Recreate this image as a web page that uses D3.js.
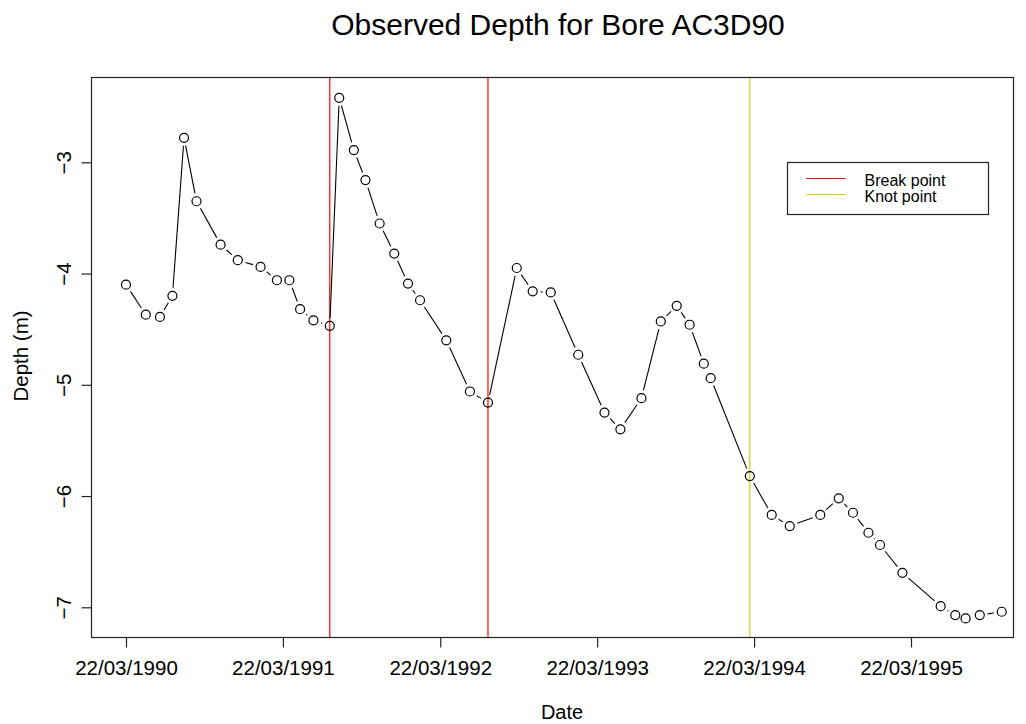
<!DOCTYPE html>
<html>
<head>
<meta charset="utf-8">
<script src="https://cdn.jsdelivr.net/npm/d3@7"></script>
<style>
  body { margin:0; background:#fff; }
  text { font-family:"Liberation Sans", Arial, sans-serif; fill:#000; }
</style>
</head>
<body>
<div id="chart"></div>
<script>
const obsDates = [
  "22/03/1990","07/05/1990","09/06/1990","08/07/1990","04/08/1990","02/09/1990",
  "28/10/1990","07/12/1990","29/01/1991","08/03/1991","06/04/1991","01/05/1991",
  "01/06/1991","09/07/1991","31/07/1991","03/09/1991","30/09/1991","02/11/1991",
  "06/12/1991","07/01/1992","04/02/1992","05/04/1992","30/05/1992","11/07/1992",
  "16/09/1992","23/10/1992","04/12/1992","06/02/1993","08/04/1993","15/05/1993",
  "03/07/1993","17/08/1993","23/09/1993","23/10/1993","25/11/1993","11/12/1993",
  "12/03/1994","02/05/1994","13/06/1994","23/08/1994","05/10/1994","07/11/1994",
  "13/12/1994","09/01/1995","02/03/1995","30/05/1995","03/07/1995","27/07/1995",
  "29/08/1995","19/10/1995"
];
const obsDepth = [
  -4.10,-4.37,-4.39,-4.20,-2.78,-3.35,
  -3.74,-3.88,-3.94,-4.06,-4.06,-4.32,
  -4.42,-4.47,-2.42,-2.89,-3.16,-3.55,
  -3.82,-4.09,-4.24,-4.60,-5.06,-5.16,
  -3.95,-4.16,-4.17,-4.73,-5.25,-5.40,
  -5.12,-4.43,-4.29,-4.46,-4.81,-4.94,
  -5.82,-6.17,-6.27,-6.17,-6.02,-6.15,
  -6.33,-6.44,-6.69,-6.99,-7.07,-7.10,
  -7.07,-7.04
];
const breakDates = ["09/07/1991","11/07/1992"];
const knotDates = ["12/03/1994"];
const xTickDates = ["22/03/1990","22/03/1991","22/03/1992","22/03/1993","22/03/1994","22/03/1995"];
const yTicks = [-3,-4,-5,-6,-7];
const legendLabels = ["Break point","Knot point"];

const W = 1026, H = 724;
const box = {left:91, right:1013, top:77, bottom:637};
const parse = d3.timeParse("%d/%m/%Y");
const fmt = d3.timeFormat("%d/%m/%Y");

const data = obsDates.map((d,i)=>({date:parse(d), depth:obsDepth[i]}));

const x = d3.scaleTime()
  .domain([parse(xTickDates[0]), parse(xTickDates[5])])
  .range([126, 911]);
const y = d3.scaleLinear()
  .domain([-3,-7])
  .range([162.3, 607.3]);

const svg = d3.select("#chart").append("svg")
  .attr("width",W).attr("height",H);
svg.append("rect").attr("width",W).attr("height",H).attr("fill","#fff");

// break / knot lines
svg.append("g").selectAll("line").data(breakDates.map(parse)).join("line")
  .attr("x1",d=>x(d)).attr("x2",d=>x(d))
  .attr("y1",box.top).attr("y2",box.bottom)
  .attr("stroke","#ff0000").attr("stroke-width",1.2);
svg.append("g").selectAll("line").data(knotDates.map(parse)).join("line")
  .attr("x1",d=>x(d)).attr("x2",d=>x(d))
  .attr("y1",box.top).attr("y2",box.bottom)
  .attr("stroke","#cdcd00").attr("stroke-width",1.2);

// line with gaps around the points (type = "b")
const gap = 8;
const segs = [];
for(let i=1;i<data.length;i++){
  const x0=x(data[i-1].date), y0=y(data[i-1].depth);
  const x1=x(data[i].date), y1=y(data[i].depth);
  const len=Math.hypot(x1-x0,y1-y0);
  if(len<=2*gap) continue;
  const ux=(x1-x0)/len, uy=(y1-y0)/len;
  segs.push([x0+ux*gap,y0+uy*gap,x1-ux*gap,y1-uy*gap]);
}
svg.append("g").selectAll("line").data(segs).join("line")
  .attr("x1",d=>d[0]).attr("y1",d=>d[1])
  .attr("x2",d=>d[2]).attr("y2",d=>d[3])
  .attr("stroke","#000").attr("stroke-width",1.1);

svg.append("g").selectAll("circle").data(data).join("circle")
  .attr("cx",d=>x(d.date)).attr("cy",d=>y(d.depth))
  .attr("r",4.5).attr("fill","none")
  .attr("stroke","#000").attr("stroke-width",1.2);

// box
svg.append("rect")
  .attr("x",box.left+0.5).attr("y",box.top+0.5)
  .attr("width",box.right-box.left).attr("height",box.bottom-box.top)
  .attr("fill","none").attr("stroke","#222").attr("stroke-width",1.2);

// x axis
const xAxis = svg.append("g")
  .attr("transform",`translate(0,${box.bottom+0.5})`)
  .call(d3.axisBottom(x).tickValues(xTickDates.map(parse)).tickFormat(fmt)
    .tickSize(10).tickPadding(13));
xAxis.select(".domain").remove();
xAxis.selectAll("line").attr("stroke","#222").attr("stroke-width",1.2);
xAxis.selectAll("text").attr("font-size",20.5)
  .attr("font-family","Liberation Sans, Arial, sans-serif").attr("fill","#000");

// y axis
const yAxis = svg.append("g")
  .attr("transform",`translate(${box.left+0.5},0)`)
  .call(d3.axisLeft(y).tickValues(yTicks).tickFormat(d3.format("d")).tickSize(10));
yAxis.select(".domain").remove();
yAxis.selectAll("line").attr("stroke","#222").attr("stroke-width",1.2);
yAxis.selectAll("text")
  .attr("x",0).attr("dy",null)
  .attr("text-anchor","middle")
  .attr("transform","translate(-21,0) rotate(-90)")
  .attr("font-size",20.5)
  .attr("font-family","Liberation Sans, Arial, sans-serif").attr("fill","#000");

// titles
svg.append("text").attr("x",558).attr("y",35)
  .attr("text-anchor","middle").attr("font-size",30)
  .text("Observed Depth for Bore AC3D90");
svg.append("text").attr("x",562).attr("y",719)
  .attr("text-anchor","middle").attr("font-size",20)
  .text("Date");
svg.append("text")
  .attr("transform","translate(28,356) rotate(-90)")
  .attr("text-anchor","middle").attr("font-size",20.5)
  .text("Depth (m)");

// legend
const lg = svg.append("g").attr("transform","translate(787.5,162.5)");
lg.append("rect").attr("width",201).attr("height",52)
  .attr("fill","#fff").attr("stroke","#222").attr("stroke-width",1.2);
const legColors = ["#ff0000","#cdcd00"];
const items = lg.selectAll("g.item").data(legendLabels).join("g")
  .attr("class","item")
  .attr("transform",(d,i)=>`translate(0,${16+i*16})`);
items.append("line").attr("x1",19).attr("x2",58)
  .attr("stroke",(d,i)=>legColors[i]).attr("stroke-width",1.2);
items.append("text").attr("x",77).attr("y",7)
  .attr("font-size",16).text(d=>d);
</script>
</body>
</html>
